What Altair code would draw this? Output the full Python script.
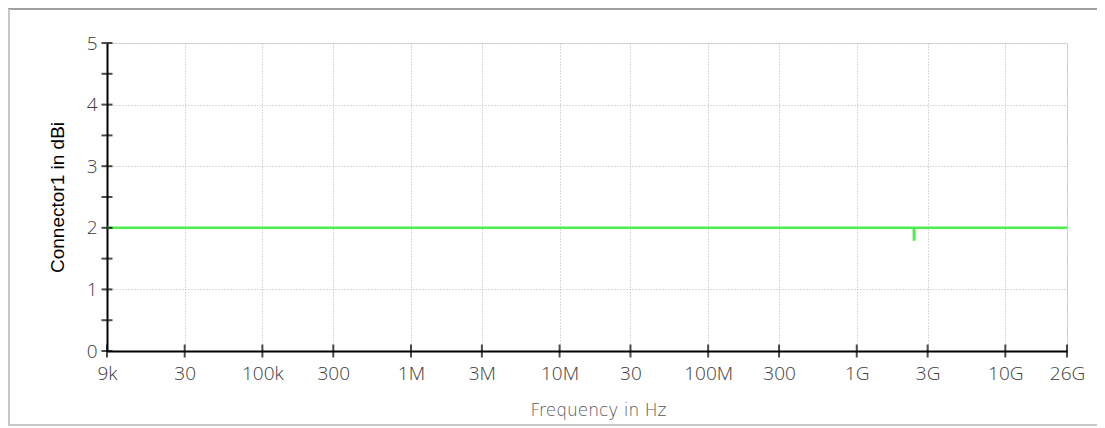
import altair as alt
import pandas as pd

# ---- data ----
freq_hz = [9e3, 2.42e9, 2.425e9, 2.44e9, 2.445e9, 26e9]
gain_dbi = [2.0, 2.0, 1.81, 1.81, 2.0, 2.0]

x_tick_values = [9e3, 3e4, 1e5, 3e5, 1e6, 3e6, 1e7, 3e7, 1e8, 3e8, 1e9, 3e9, 1e10, 2.6e10]
x_tick_labels = ["9k", "30", "100k", "300", "1M", "3M", "10M", "30", "100M", "300",
                 "1G", "3G", "10G", "26G"]
y_tick_values = [0, 0.5, 1, 1.5, 2, 2.5, 3, 3.5, 4, 4.5, 5]

line_df = pd.DataFrame({"f": freq_hz, "g": gain_dbi})
xt_df = pd.DataFrame({"f": x_tick_values, "g": [0] * len(x_tick_values)})
yt_df = pd.DataFrame({"f": [x_tick_values[0]] * len(y_tick_values), "g": y_tick_values})

label_map = "{" + ",".join(f"'{int(v)}':'{l}'" for v, l in zip(x_tick_values, x_tick_labels)) + "}"

W, H = 960, 308
LABEL_FONT = "Open Sans"

x_scale = alt.Scale(type="log", domain=[x_tick_values[0], x_tick_values[-1]], nice=False)
y_scale = alt.Scale(domain=[0, 5], nice=False, zero=False)

x_axis = alt.Axis(
    values=x_tick_values,
    labelExpr=f"{label_map}[datum.value]",
    title="Frequency in Hz",
    grid=True, gridColor="#b4b4b4", gridDash=[1, 2], gridWidth=1,
    domainColor="black", domainWidth=2,
    ticks=False, labelPadding=13,
    labelFont=LABEL_FONT, labelFontSize=19, labelColor="#3c3c3c", labelFontWeight=300,
    labelOverlap=False, labelFlush=False,
    titleFont="DejaVu Sans", titleFontSize=17, titleColor="#555", titleFontWeight=300,
    titlePadding=19, titleX=491,
)
y_axis = alt.Axis(
    values=y_tick_values,
    labelExpr="datum.value % 1 == 0 ? format(datum.value, 'd') : ''",
    title="Connector1  in dBi",
    grid=True, gridColor="#b4b4b4", gridDash=[1, 2], gridWidth=1,
    domainColor="black", domainWidth=2,
    ticks=False, labelPadding=10,
    labelFont=LABEL_FONT, labelFontSize=19, labelColor="#3c3c3c", labelFontWeight=300,
    titleFont="Liberation Sans", titleFontSize=19, titleColor="black", titleFontWeight="normal",
    titlePadding=19,
)

base_line = alt.Chart(line_df).mark_line(color="#4cf04c", strokeWidth=2.5, clip=True).encode(
    x=alt.X("f:Q", scale=x_scale, axis=x_axis),
    y=alt.Y("g:Q", scale=y_scale, axis=y_axis),
)

xticks = alt.Chart(xt_df).mark_tick(orient="vertical", size=13, thickness=2, color="black").encode(
    x=alt.X("f:Q", scale=x_scale),
    y=alt.Y("g:Q", scale=y_scale),
)
yticks = alt.Chart(yt_df).mark_tick(orient="horizontal", size=11, thickness=2, color="black").encode(
    x=alt.X("f:Q", scale=x_scale),
    y=alt.Y("g:Q", scale=y_scale),
)

one = pd.DataFrame({"a": [0]})
border_top = alt.Chart(one).mark_rule(color="#a0a0a0", strokeWidth=2).encode(
    x=alt.value(-99), x2=alt.value(995), y=alt.value(-34)
)
border_left = alt.Chart(one).mark_rule(color="#c8c8c8", strokeWidth=2).encode(
    x=alt.value(-98), y=alt.value(-34), y2=alt.value(383)
)
border_bottom = alt.Chart(one).mark_rule(color="#c8c8c8", strokeWidth=2).encode(
    x=alt.value(-99), x2=alt.value(995), y=alt.value(382)
)

chart = alt.layer(base_line, xticks, yticks, border_top, border_left, border_bottom).properties(
    width=W, height=H,
    autosize=alt.AutoSizeParams(type="none"),
    padding={"left": 99, "top": 35, "right": 30, "bottom": 77},
).configure_view(stroke="transparent").configure(background="white")

chart.save("out.html", embed_options={"renderer": "svg", "actions": False})
